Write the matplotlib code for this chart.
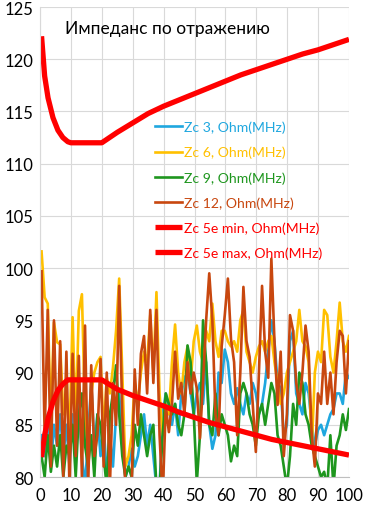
import numpy as np
import matplotlib
matplotlib.use("Agg")
import matplotlib.pyplot as plt

plt.rcParams['font.family'] = ['Lato', 'DejaVu Sans']

title = "Импеданс по отражению"
labels = ["Zc 3, Ohm(MHz)", "Zc 6, Ohm(MHz)", "Zc 9, Ohm(MHz)", "Zc 12, Ohm(MHz)",
          "Zc 5e min, Ohm(MHz)", "Zc 5e max, Ohm(MHz)"]
colors = ["#1FA7DF", "#FFC000", "#1E961E", "#C8470F", "#FF0000", "#FF0000"]

freq = np.linspace(0.5, 100, 100)

zc3 = [84, 82, 86, 81, 85, 83, 86, 82, 85, 81,
       86, 84, 87, 82, 79, 84, 89, 83, 86, 82,
       85, 80, 84, 81, 86, 88, 83, 80, 81, 82.7,
       81, 82, 84, 86, 83, 85, 82, 79, 79, 86,
       88, 86.5, 85, 87, 84, 88, 89.5, 90, 88, 86,
       88, 89, 87, 91, 85, 82.7, 84, 90, 89, 92.2,
       91, 88, 87, 88.5, 87, 86, 88, 87, 89, 88,
       86, 87, 89, 92, 95, 93, 89, 88.5, 84, 85,
       93, 94, 88, 87, 86, 89, 88, 85, 83, 84.5,
       85, 84, 85, 86, 86.5, 88, 88, 87, 90, 89.5]

zc6 = [101.6, 97.2, 96.6, 85, 94.8, 92.9, 92.7, 86, 88, 84,
       95.3, 85, 95.9, 97.5, 86, 82, 88, 90, 91, 91.5,
       84, 89.5, 88, 90.5, 94, 99, 90, 81, 82, 84,
       89, 87, 90, 92, 91, 95.5, 90, 97.7, 88, 84,
       87, 86, 91, 94.6, 90, 88, 91, 92.5, 89, 93,
       94.5, 92, 91, 94, 93, 96.6, 93, 91.5, 94, 94,
       93, 92.5, 93, 92, 95, 96, 92, 91, 90, 91.5,
       92.5, 93, 92, 93, 93.5, 91, 89, 87, 88, 90,
       91, 92, 93, 96, 93, 92.5, 91, 82.7, 90, 92,
       91, 96, 95.5, 91.5, 90, 93, 96.7, 93, 92, 93.5]

zc9 = [82, 80, 84, 80.5, 83, 81, 84, 80, 83, 82,
       85, 80, 86, 88, 83, 81, 84, 80, 86, 85,
       82, 79, 86, 88, 90.7, 86, 82, 80, 81, 80,
       85, 83, 86, 84, 82, 84, 85, 79, 79, 84,
       88, 87, 86, 87, 85, 84, 86, 92.6, 91, 86,
       79.5, 84, 95, 91, 85, 84, 88, 84, 86, 85,
       84, 81.5, 83, 82, 88, 89, 88, 86, 85, 83,
       86, 87, 85, 87, 89, 88, 84, 83, 81, 79,
       82, 87, 85, 90, 89, 86, 85, 83, 82, 81,
       80, 80.5, 79, 84, 79, 83, 84, 86, 84.5, 86.5]

zc12 = [99.7, 84, 96, 81, 95, 83, 93, 80, 92, 79,
        91.8, 82, 91.6, 80, 94.5, 79, 90.7, 82, 84, 91.3,
        81, 90, 79, 89, 85, 98.3, 86, 79, 78, 79,
        90.3, 85, 91.8, 93.5, 88, 96, 89, 96, 84, 78,
        86.8, 84.3, 87, 92, 87.5, 89, 86, 91, 88, 90,
        88.5, 83.7, 89, 95, 99.5, 95, 86, 84, 92.5, 95.5,
        99, 93.2, 91, 84, 90, 98.2, 93, 91.5, 87, 82.4,
        90, 98.3, 92, 89.5, 100.9, 93, 86.9, 92, 82, 86,
        95.5, 94, 89, 87, 90, 94.5, 92, 84, 81, 88,
        87, 92, 87, 90, 86, 91, 94, 93.5, 88, 93]

lim_x = [0.5, 1.5, 2.6, 4.2, 5.8, 7.4, 9, 10, 15, 20, 25, 30, 35, 40, 45,
         50, 55, 60, 65, 70, 75, 80, 85, 90, 95, 100]
zc5e_min = [122.2, 118.4, 116.3, 114.4, 113.2, 112.5, 112.1, 112, 112, 112, 113.0,
            113.9, 114.8, 115.5, 116.1, 116.7, 117.3, 117.9, 118.5, 119.0, 119.5,
            120.0, 120.5, 120.9, 121.4, 121.9]
zc5e_max = [81.9, 84.0, 85.6, 87.2, 88.3, 88.9, 89.3, 89.3, 89.3, 89.3, 88.4,
            87.8, 87.3, 86.8, 86.2, 85.7, 85.2, 84.8, 84.4, 84.0, 83.6,
            83.3, 83.0, 82.7, 82.4, 82.1]

fig = plt.figure(figsize=(3.72, 5.10), dpi=100)
ax = fig.add_axes([40/372, 1 - 478/510, 309/372, 470/510])

series = [zc3, zc6, zc9, zc12]
for vals, lab, col in zip(series, labels[:4], colors[:4]):
    ax.plot(freq, vals, color=col, lw=1.9, label=lab, solid_joinstyle='round')
ax.plot(lim_x, zc5e_min, color=colors[4], lw=3.8, label=labels[4], solid_capstyle='butt')
ax.plot(lim_x, zc5e_max, color=colors[5], lw=3.8, label=labels[5], solid_capstyle='butt')

ax.set_xlim(0, 100)
ax.set_ylim(80, 125)
ax.set_xticks(np.arange(0, 101, 10))
ax.set_yticks(np.arange(80, 126, 5))
ax.grid(True, color="#D9D9D9", lw=0.8)
ax.set_axisbelow(True)
for s in ax.spines.values():
    s.set_visible(False)
ax.spines['left'].set_visible(True)
ax.spines['bottom'].set_visible(True)
ax.spines['left'].set_color("#D9D9D9")
ax.spines['bottom'].set_color("#BFBFBF")
ax.tick_params(length=0, labelsize=12, colors="#000000")
ax.tick_params(axis='x', pad=7)
ax.tick_params(axis='y', pad=5)

ax.text(0.08, 0.955, title, transform=ax.transAxes, fontsize=12.5, va='center', ha='left')

leg = ax.legend(loc='upper left', bbox_to_anchor=(0.372, 0.758), frameon=False,
                fontsize=10.1, handlelength=1.95, handletextpad=0.15,
                labelspacing=0.9, borderpad=0, borderaxespad=0)
for txt, col in zip(leg.get_texts(), colors):
    txt.set_color(col)

fig.savefig("out.png", dpi=100)
